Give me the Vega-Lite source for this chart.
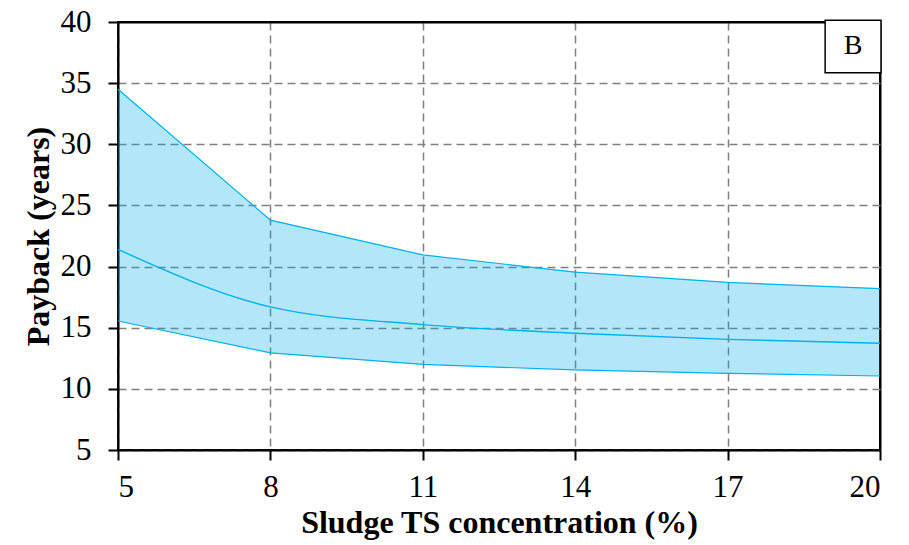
{
  "$schema": "https://vega.github.io/schema/vega-lite/v6.json",
  "width": 762,
  "height": 428,
  "autosize": {"type": "none"},
  "padding": {"left": 118, "top": 22, "right": 29, "bottom": 95},
  "background": "white",
  "config": {
    "view": {"stroke": "black", "strokeWidth": 2},
    "font": "Liberation Serif",
    "axis": {
      "labelFont": "Liberation Serif",
      "titleFont": "Liberation Serif",
      "labelFontSize": 31,
      "titleFontSize": 32,
      "labelColor": "black",
      "titleColor": "black",
      "domainColor": "black",
      "domainWidth": 2,
      "tickColor": "black",
      "tickWidth": 2,
      "tickSize": 10,
      "gridWidth": 1.5,
      "gridOpacity": 1
    }
  },
  "data": {
    "values": [
      {"ts": 5, "hi": 34.5, "mid": 21.4, "lo": 15.55},
      {"ts": 8, "hi": 23.8, "mid": 16.7, "lo": 12.95},
      {"ts": 11, "hi": 20.95, "mid": 15.25, "lo": 12.0},
      {"ts": 14, "hi": 19.55, "mid": 14.55, "lo": 11.55},
      {"ts": 17, "hi": 18.7, "mid": 14.05, "lo": 11.27},
      {"ts": 20, "hi": 18.2, "mid": 13.73, "lo": 11.05}
    ]
  },
  "encoding": {
    "x": {
      "field": "ts",
      "type": "quantitative",
      "scale": {"domain": [5, 20], "nice": false, "zero": false},
      "axis": {
        "values": [5, 8, 11, 14, 17, 20],
        "title": "Sludge TS concentration (%)",
        "titleFontWeight": "bold",
        "labelPadding": 12,
        "titlePadding": 5,
        "gridColor": {"condition": {"test": "datum.value === 20", "value": "black"}, "value": "#808080"},
        "gridDash": {"condition": {"test": "datum.value === 20", "value": []}, "value": [8, 5]},
        "gridWidth": {"condition": {"test": "datum.value === 20", "value": 2}, "value": 1.5}
      }
    }
  },
  "layer": [
    {
      "mark": {"type": "area", "color": "#00b0f0", "opacity": 0.3},
      "encoding": {
        "y": {
          "field": "hi",
          "type": "quantitative",
          "scale": {"domain": [5, 40], "nice": false, "zero": false},
          "axis": {
            "values": [5, 10, 15, 20, 25, 30, 35, 40],
            "title": "Payback (years)",
            "titleFontWeight": "bold",
            "labelPadding": 17,
            "titlePadding": 5,
            "gridColor": {"condition": {"test": "datum.value === 40", "value": "black"}, "value": "#808080"},
            "gridDash": {"condition": {"test": "datum.value === 40", "value": []}, "value": [8, 5]},
            "gridWidth": {"condition": {"test": "datum.value === 40", "value": 2}, "value": 1.5}
          }
        },
        "y2": {"field": "lo"}
      }
    },
    {
      "mark": {"type": "line", "color": "#00b0f0", "strokeWidth": 1.2},
      "encoding": {"y": {"field": "hi", "type": "quantitative"}}
    },
    {
      "mark": {"type": "line", "color": "#00b0f0", "strokeWidth": 1.2},
      "encoding": {"y": {"field": "lo", "type": "quantitative"}}
    },
    {
      "mark": {"type": "line", "color": "#00b0f0", "strokeWidth": 1.4, "interpolate": "monotone"},
      "encoding": {"y": {"field": "mid", "type": "quantitative"}}
    },
    {
      "data": {"values": [{"x1": 18.92, "x2": 20.02, "y1": 35.85, "y2": 40.15}]},
      "mark": {"type": "rect", "fill": "white", "stroke": "black", "strokeWidth": 1.5, "clip": false},
      "encoding": {
        "x": {"field": "x1", "type": "quantitative"},
        "x2": {"field": "x2"},
        "y": {"field": "y1", "type": "quantitative"},
        "y2": {"field": "y2"}
      }
    },
    {
      "data": {"values": [{"xc": 19.47, "yc": 38.0, "label": "B"}]},
      "mark": {"type": "text", "font": "Liberation Serif", "fontSize": 28, "color": "black", "align": "center", "baseline": "middle"},
      "encoding": {
        "x": {"field": "xc", "type": "quantitative"},
        "y": {"field": "yc", "type": "quantitative"},
        "text": {"field": "label"}
      }
    }
  ]
}
